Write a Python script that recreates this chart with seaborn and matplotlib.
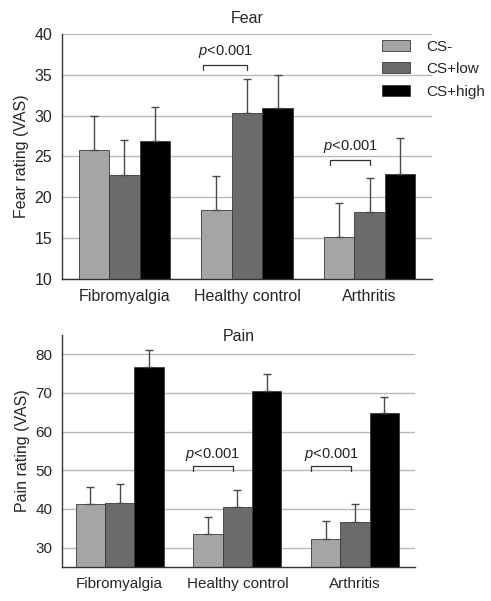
import pandas as pd
import seaborn as sns
import matplotlib.pyplot as plt
from matplotlib.patches import Patch

groups = ['Fibromyalgia', 'Healthy control', 'Arthritis']
conditions = ['CS-', 'CS+low', 'CS+high']
colors = ['#a5a5a5', '#6b6b6b', '#000000']

# Fear ratings (VAS), mean and upper error per condition
fear_cs_minus = [25.8, 18.4, 15.1]
fear_cs_low = [22.7, 30.3, 18.2]
fear_cs_high = [26.9, 30.9, 22.9]
fear_err_minus = [4.1, 4.2, 4.2]
fear_err_low = [4.3, 4.2, 4.2]
fear_err_high = [4.2, 4.1, 4.4]

# Pain ratings (VAS)
pain_cs_minus = [41.2, 33.5, 32.3]
pain_cs_low = [41.6, 40.5, 36.6]
pain_cs_high = [76.8, 70.4, 64.7]
pain_err_minus = [4.4, 4.4, 4.5]
pain_err_low = [4.8, 4.5, 4.6]
pain_err_high = [4.4, 4.5, 4.3]


def make_frame(minus, low, high):
    rows = []
    for cond, vals in zip(conditions, [minus, low, high]):
        for g, v in zip(groups, vals):
            rows.append((g, cond, v))
    return pd.DataFrame(rows, columns=['group', 'condition', 'value'])


def draw_panel(ax, df, errs, fs):
    sns.barplot(data=df, x='group', y='value', hue='condition', order=groups,
                hue_order=conditions, palette=colors, errorbar=None, width=0.75,
                edgecolor='#3a3a3a', linewidth=0.6, legend=False, ax=ax)
    # upper-only error bars on top of each bar
    for cont, err in zip(ax.containers, errs):
        xs = [p.get_x() + p.get_width() / 2 for p in cont.patches]
        hs = [p.get_height() for p in cont.patches]
        ax.errorbar(xs, hs, yerr=[[0] * len(err), err], fmt='none',
                    ecolor='#4a4a4a', elinewidth=1.0, capsize=3, capthick=1.0, zorder=3)
    ax.yaxis.grid(True, color='#b8b8b8', linewidth=1.0)
    ax.set_axisbelow(True)
    for s in ['top', 'right']:
        ax.spines[s].set_visible(False)
    for s in ['left', 'bottom']:
        ax.spines[s].set_color('#333333')
        ax.spines[s].set_linewidth(1.0)
    ax.tick_params(axis='both', direction='out', length=5, width=1, color='#333333',
                   labelsize=fs, pad=2)
    ax.set_xlabel('')


def bracket(ax, x, x0, x1, y, drop, ty):
    ax.plot([x + x0, x + x0, x + x1, x + x1], [y - drop, y, y, y - drop],
            color='#333333', linewidth=0.9)
    ax.text(x + (x0 + x1) / 2, ty, r'$\it{p}$<0.001', ha='center', va='center',
            fontsize=10.5, color='#222222')


sns.set_style('white')
plt.rcParams['font.family'] = ['Liberation Sans', 'DejaVu Sans']
plt.rcParams['mathtext.fontset'] = 'custom'
plt.rcParams['mathtext.it'] = 'Liberation Sans:italic'

fig = plt.figure(figsize=(4.91, 6.01), dpi=100)
ax1 = fig.add_axes([0.1263, 0.5358, 0.7536, 0.4077])
ax2 = fig.add_axes([0.1263, 0.0566, 0.7190, 0.3860])

fear_df = make_frame(fear_cs_minus, fear_cs_low, fear_cs_high)
draw_panel(ax1, fear_df, [fear_err_minus, fear_err_low, fear_err_high], 11.5)
ax1.set_ylim(10, 40)
ax1.set_yticks([10, 15, 20, 25, 30, 35, 40])
ax1.set_xlim(-0.51, 2.51)
ax1.set_ylabel('Fear rating (VAS)', fontsize=11.5, labelpad=4)
ax1.set_title('Fear', fontsize=11.5, pad=8)
bracket(ax1, 1, -0.36, 0.0, 36.2, 0.6, 37.9)
bracket(ax1, 2, -0.32, 0.0, 24.6, 0.7, 26.2)

handles = [Patch(facecolor=c, edgecolor='#3a3a3a', linewidth=0.6) for c in colors]
ax1.legend(handles, conditions, loc='upper left', bbox_to_anchor=(0.865, 0.976),
           frameon=False, fontsize=11, borderpad=0, borderaxespad=0,
           handlelength=1.85, handleheight=0.72, handletextpad=1.05, labelspacing=0.55)

pain_df = make_frame(pain_cs_minus, pain_cs_low, pain_cs_high)
draw_panel(ax2, pain_df, [pain_err_minus, pain_err_low, pain_err_high], 11)
ax2.set_ylim(25, 85)
ax2.set_yticks([30, 40, 50, 60, 70, 80])
ax2.set_xlim(-0.49, 2.51)
ax2.set_ylabel('Pain rating (VAS)', fontsize=11.5, labelpad=4)
ax2.text(0.5, 0.995, 'Pain', transform=ax2.transAxes, ha='center', va='center',
         fontsize=11.5)
bracket(ax2, 1, -0.38, -0.04, 51.2, 1.5, 54.2)
bracket(ax2, 2, -0.37, -0.03, 51.2, 1.5, 54.2)

fig.savefig('out.png', dpi=100)
